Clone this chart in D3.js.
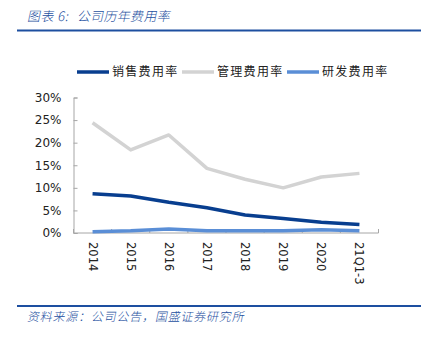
<!DOCTYPE html>
<html>
<head>
<meta charset="utf-8">
<script src="https://cdn.jsdelivr.net/npm/d3@7/dist/d3.min.js"></script>
<style>
  html, body { margin: 0; padding: 0; background: #fff; }
  svg { display: block; }
</style>
</head>
<body>
<svg id="chart" width="424" height="338"></svg>
<script>
// Expense ratios by year (%)
const categories = ["2014", "2015", "2016", "2017", "2018", "2019", "2020", "21Q1-3"];
const salesRatio = [8.7, 8.2, 6.8, 5.6, 4.0, 3.2, 2.4, 1.9];
const adminRatio = [24.4, 18.4, 21.7, 14.3, 11.9, 10.0, 12.4, 13.2];
const rdRatio = [0.3, 0.5, 0.9, 0.5, 0.5, 0.5, 0.7, 0.5];
const yTicks = [0, 5, 10, 15, 20, 25, 30];

const series = [
  { name: "销售费用率", values: salesRatio, color: "#083e8f" },
  { name: "管理费用率", values: adminRatio, color: "#d3d3d3" },
  { name: "研发费用率", values: rdRatio, color: "#5a8ed6" }
];

const svg = d3.select("#chart");
const textFont = "'Noto Sans CJK SC', sans-serif";
const numFont = "'DejaVu Sans', sans-serif";
const brandBlue = "#1d4fa0";

function slanted(xPos, yPos, size, str, spacing) {
  return svg.append("text")
    .attr("x", xPos).attr("y", yPos)
    .attr("font-family", textFont).attr("font-size", size)
    .attr("font-weight", 300)
    .attr("letter-spacing", spacing)
    .attr("fill", brandBlue)
    .attr("transform", "skewX(-12)").attr("transform-origin", `${xPos} ${yPos}`)
    .text(str);
}

// Header
slanted(27, 21, 13, "图表 6:", 0.5);
slanted(77, 21, 13, "公司历年费用率", 0.3);
svg.append("line")
  .attr("x1", 17).attr("x2", 421).attr("y1", 30.5).attr("y2", 30.5)
  .attr("stroke", brandBlue).attr("stroke-width", 2);

// Footer
svg.append("line")
  .attr("x1", 17).attr("x2", 421).attr("y1", 306).attr("y2", 306)
  .attr("stroke", brandBlue).attr("stroke-width", 2);
slanted(27, 321, 12, "资料来源：公司公告，国盛证券研究所", 0.8);

// Plot area
const plotLeft = 73.5, plotRight = 378.5, plotTop = 97.5, plotBottom = 233;
const x = d3.scaleBand().domain(categories).range([plotLeft, plotRight]);
const y = d3.scaleLinear().domain([0, 30]).range([plotBottom, plotTop]);

const axisColor = "#a6a6a6";

// Y axis
const yAxis = svg.append("g")
  .attr("transform", `translate(${plotLeft},0)`)
  .call(d3.axisLeft(y).tickValues(yTicks).tickSize(-4).tickPadding(12)
    .tickFormat(d => d + "%"));
yAxis.select(".domain").attr("stroke", axisColor);
yAxis.selectAll(".tick line").attr("stroke", axisColor);
yAxis.selectAll(".tick text")
  .attr("font-family", numFont).attr("font-size", 12).attr("fill", "#222");

// X axis with ticks on band boundaries
const xAxis = svg.append("g")
  .attr("transform", `translate(0,${plotBottom})`);
xAxis.append("line")
  .attr("x1", plotLeft).attr("x2", plotRight).attr("y1", 0).attr("y2", 0)
  .attr("stroke", axisColor);
const boundaries = categories.map(c => x(c)).concat([plotRight]);
xAxis.selectAll(".bt").data(boundaries).enter().append("line")
  .attr("x1", d => d).attr("x2", d => d)
  .attr("y1", 0).attr("y2", -4)
  .attr("stroke", axisColor);
xAxis.selectAll(".lbl").data(categories).enter().append("text")
  .attr("transform", d => `translate(${x(d) + x.bandwidth() / 2},9) rotate(90)`)
  .attr("dy", "0.35em")
  .attr("font-family", numFont).attr("font-size", 11.5).attr("fill", "#222")
  .text(d => d);

// Lines
const line = d3.line()
  .x((d, i) => x(categories[i]) + x.bandwidth() / 2)
  .y(d => y(d));
series.forEach(s => {
  svg.append("path")
    .datum(s.values)
    .attr("d", line)
    .attr("fill", "none")
    .attr("stroke", s.color)
    .attr("stroke-width", 3.5)
    .attr("stroke-linejoin", "round");
});

// Legend
const legendX = [77, 182, 287];
series.forEach((s, i) => {
  const g = svg.append("g").attr("transform", `translate(${legendX[i]},72)`);
  g.append("line").attr("x1", 0).attr("x2", 32).attr("y1", 0).attr("y2", 0)
    .attr("stroke", s.color).attr("stroke-width", 3.5);
  g.append("text").attr("x", 35).attr("y", 0).attr("dy", "0.36em")
    .attr("font-family", textFont).attr("font-size", 12).attr("fill", "#222")
    .attr("letter-spacing", 1.3)
    .text(s.name);
});
</script>
</body>
</html>
